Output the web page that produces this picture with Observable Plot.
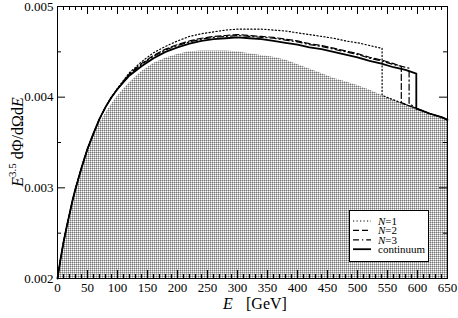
<!DOCTYPE html>
<html><head><meta charset="utf-8">
<script src="https://cdn.jsdelivr.net/npm/d3@7"></script>
<script src="https://cdn.jsdelivr.net/npm/@observablehq/plot@0.6"></script>
<style>body{margin:0;background:#fff} svg text{font-family:"Liberation Serif","Times New Roman",serif !important;}</style>
</head><body><div id="chart"></div>
<script>
// Continuum (solid)
const contE = [0,5,10,15,20,25,30,40,50,60,70,80,90,100,120,140,160,180,200,220,240,260,280,300,320,340,360,380,400,420,440,460,480,500,520,540,560,580,598,598,600,620,640,650];
const contF = [0.00200,0.00221,0.00240,0.00256,0.00271,0.00286,0.00299,0.00322,0.00343,0.00360,0.00376,0.00389,0.00400,0.00409,0.00424,0.00434,0.00443,0.00450,0.00455,0.00459,0.00462,0.00464,0.00465,0.00466,0.00465,0.00464,0.00462,0.00460,0.00458,0.00455,0.00453,0.00450,0.00447,0.00444,0.00440,0.00437,0.00433,0.00430,0.00426,0.00387,0.00387,0.00382,0.00378,0.00375];
// N=1 (dotted)
const n1E = [0,5,10,15,20,25,30,40,50,60,70,80,90,100,120,140,160,180,200,220,240,260,280,300,320,340,360,380,400,420,440,460,480,500,520,540,541,541,560,580,600,620,640,650];
const n1F = [0.00200,0.00221,0.00240,0.00256,0.00271,0.00286,0.00299,0.00322,0.00343,0.00360,0.00376,0.00389,0.00400,0.00410,0.00427,0.00439,0.00449,0.00456,0.00462,0.00467,0.00470,0.00472,0.00474,0.00475,0.00475,0.00475,0.00474,0.00473,0.00471,0.00469,0.00467,0.00465,0.00462,0.00460,0.00457,0.00454,0.00454,0.00402,0.00397,0.00392,0.00387,0.00382,0.00378,0.00375];
// N=2 (dashed)
const n2E = [0,5,10,15,20,25,30,40,50,60,70,80,90,100,120,140,160,180,200,220,240,260,280,300,320,340,360,380,400,420,440,460,480,500,520,540,560,573,573,580,600,620,640,650];
const n2F = [0.00200,0.00221,0.00240,0.00256,0.00271,0.00286,0.00299,0.00322,0.00343,0.00360,0.00376,0.00389,0.00400,0.00409,0.00426,0.00437,0.00446,0.00453,0.00458,0.00462,0.00465,0.00467,0.00468,0.00469,0.00468,0.00467,0.00466,0.00464,0.00462,0.00459,0.00457,0.00454,0.00451,0.00448,0.00444,0.00441,0.00437,0.00434,0.00394,0.00392,0.00387,0.00382,0.00378,0.00375];
// N=3 (dash-dot)
const n3E = [0,5,10,15,20,25,30,40,50,60,70,80,90,100,120,140,160,180,200,220,240,260,280,300,320,340,360,380,400,420,440,460,480,500,520,540,560,580,586,586,600,620,640,650];
const n3F = [0.00200,0.00221,0.00240,0.00256,0.00271,0.00286,0.00299,0.00322,0.00343,0.00360,0.00376,0.00389,0.00400,0.00409,0.00425,0.00436,0.00445,0.00452,0.00457,0.00461,0.00464,0.00466,0.00467,0.00468,0.00467,0.00466,0.00465,0.00463,0.00461,0.00458,0.00456,0.00453,0.00450,0.00447,0.00443,0.00440,0.00436,0.00433,0.00432,0.00393,0.00387,0.00382,0.00378,0.00375];
// Shaded background
const shadeE = [0,5,10,15,20,25,30,40,50,60,70,80,90,100,120,140,160,180,200,220,240,260,280,300,320,340,360,380,400,420,440,460,480,500,520,540,560,580,600,620,640,650];
const shadeF = [0.00200,0.00221,0.00240,0.00256,0.00271,0.00286,0.00299,0.00322,0.00342,0.00358,0.00371,0.00382,0.00392,0.00401,0.00416,0.00428,0.00437,0.00443,0.00447,0.00450,0.00451,0.00451,0.00451,0.00450,0.00448,0.00446,0.00444,0.00441,0.00436,0.00431,0.00426,0.00421,0.00417,0.00413,0.00408,0.00402,0.00397,0.00392,0.00387,0.00382,0.00378,0.00375];

const xMajor = [0,50,100,150,200,250,300,350,400,450,500,550,600,650];
const xMinor = d3.range(0, 651, 10).filter(v => v % 50 !== 0);
const yMajor = [0.002,0.003,0.004,0.005];
const yMinor = [0.0025,0.0035,0.0045];

const toRows = (E, F) => E.map((e, i) => ({E: e, F: F[i]}));
const cont = toRows(contE, contF), n1 = toRows(n1E, n1F), n2 = toRows(n2E, n2F), n3 = toRows(n3E, n3F), shade = toRows(shadeE, shadeF);

const W = 458, H = 318, mL = 57, mR = 11, mT = 6, mB = 40;
const fh = H - mT - mB, fw = W - mL - mR;
const big = 8, small = 4;
const SERIF = '"Liberation Serif","Times New Roman",serif';

const svg = Plot.plot({
  width: W, height: H,
  marginLeft: mL, marginRight: mR, marginTop: mT, marginBottom: mB,
  style: {fontFamily: SERIF, fontSize: "13px", background: "white", color: "black"},
  x: {domain: [0, 650]},
  y: {domain: [0.002, 0.005]},
  marks: [
    Plot.areaY(shade, {x: "E", y1: 0.002, y2: "F", fill: "url(#dots)"}),
    Plot.line(n1, {x: "E", y: "F", stroke: "black", strokeWidth: 1.2, strokeDasharray: "1.2,2.3"}),
    Plot.line(n2, {x: "E", y: "F", stroke: "black", strokeWidth: 1.2, strokeDasharray: "6,3"}),
    Plot.line(n3, {x: "E", y: "F", stroke: "black", strokeWidth: 1.2, strokeDasharray: "6,3,1.2,3"}),
    Plot.line(cont, {x: "E", y: "F", stroke: "black", strokeWidth: 1.8}),
    Plot.frame({stroke: "black", strokeWidth: 1}),
    // ticks (inward, all four sides)
    Plot.ruleX(xMajor, {x: d => d, insetTop: fh - big, stroke: "black"}),
    Plot.ruleX(xMinor, {x: d => d, insetTop: fh - small, stroke: "black"}),
    Plot.ruleX(xMajor, {x: d => d, insetBottom: fh - big, stroke: "black"}),
    Plot.ruleX(xMinor, {x: d => d, insetBottom: fh - small, stroke: "black"}),
    Plot.ruleY(yMajor, {y: d => d, insetRight: fw - big, stroke: "black"}),
    Plot.ruleY(yMinor, {y: d => d, insetRight: fw - small, stroke: "black"}),
    Plot.ruleY(yMajor, {y: d => d, insetLeft: fw - big, stroke: "black"}),
    Plot.ruleY(yMinor, {y: d => d, insetLeft: fw - small, stroke: "black"}),
    Plot.axisX(xMajor, {tickSize: 0, tickPadding: 4, label: null, fill: "black"}),
    Plot.axisY(yMajor, {tickSize: 0, tickPadding: 4, label: null, tickFormat: d3.format(".3f"), fill: "black"})
  ]
});

const s = d3.select(svg);
const defs = s.insert("defs", ":first-child");
const pat = defs.append("pattern").attr("id", "dots").attr("width", 2).attr("height", 2).attr("patternUnits", "userSpaceOnUse");
pat.append("rect").attr("width", 2).attr("height", 2).attr("fill", "#fff");
pat.append("rect").attr("x", 0).attr("y", 0).attr("width", 1).attr("height", 1).attr("fill", "#777");
pat.append("rect").attr("x", 1).attr("y", 0).attr("width", 1).attr("height", 1).attr("fill", "#bbb");
pat.append("rect").attr("x", 0).attr("y", 1).attr("width", 1).attr("height", 1).attr("fill", "#bbb");

// y-axis title
const yt = s.append("text").attr("transform", `translate(23,${mT + fh/2}) rotate(-90)`)
  .attr("text-anchor", "middle").attr("font-size", 16).attr("fill", "black");
yt.append("tspan").attr("font-style", "italic").text("E");
yt.append("tspan").attr("font-size", 11).attr("dy", -7).text("3.5");
yt.append("tspan").attr("dy", 7).text(" dΦ/dΩd");
yt.append("tspan").attr("font-style", "italic").text("E");

// x-axis title
s.append("text").attr("x", 223).attr("y", 309).attr("text-anchor", "start").attr("font-size", 16)
  .attr("font-style", "italic").attr("fill", "black").text("E");
s.append("text").attr("x", 246).attr("y", 309).attr("text-anchor", "start").attr("font-size", 16)
  .attr("fill", "black").text("[GeV]");

// legend
const lg = s.append("g").attr("font-size", 11).attr("text-anchor", "start");
lg.append("rect").attr("x", 349.5).attr("y", 210.5).attr("width", 79).attr("height", 51).attr("fill", "white").attr("stroke", "black");
const items = [
  {lab: "N=1", dash: "1.2,2.3", w: 1.2},
  {lab: "N=2", dash: "6,3", w: 1.2},
  {lab: "N=3", dash: "6,3,1.2,3", w: 1.2},
  {lab: null, dash: null, w: 1.8}
];
items.forEach((it, i) => {
  const yy = 221 + i * 9.4;
  const ln = lg.append("line").attr("x1", 353).attr("x2", 371).attr("y1", yy).attr("y2", yy).attr("stroke", "black").attr("stroke-width", it.w);
  if (it.dash) ln.attr("stroke-dasharray", it.dash);
  const t = lg.append("text").attr("x", 378).attr("y", yy + 3.8).attr("fill", "black");
  if (it.lab) { t.append("tspan").attr("font-style", "italic").text("N"); t.append("tspan").text(it.lab.slice(1)); }
  else t.text("continuum");
});

document.getElementById("chart").appendChild(svg);
</script>
</body></html>
